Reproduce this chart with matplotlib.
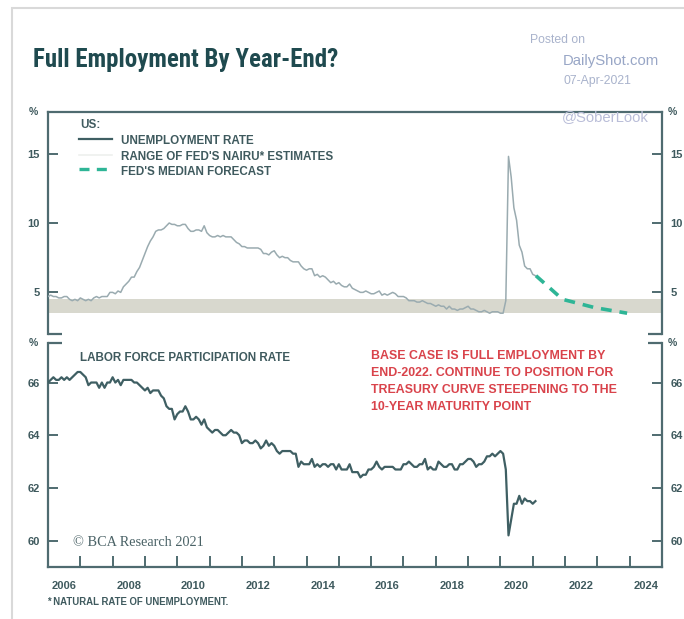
import numpy as np
import matplotlib
matplotlib.use("Agg")
import matplotlib.pyplot as plt
from matplotlib.lines import Line2D
from matplotlib.patches import Rectangle

# ---------------- data ----------------
start_year = 2006  # monthly series start in January 2006

unemployment_rate = [
    4.7, 4.8, 4.7, 4.7, 4.6, 4.6, 4.7, 4.7, 4.5, 4.4, 4.5, 4.4,   # 2006
    4.6, 4.5, 4.4, 4.5, 4.4, 4.6, 4.7, 4.6, 4.7, 4.7, 4.7, 5.0,   # 2007
    5.0, 4.9, 5.1, 5.0, 5.4, 5.6, 5.8, 6.1, 6.1, 6.5, 6.8, 7.3,   # 2008
    7.8, 8.3, 8.7, 9.0, 9.4, 9.5, 9.5, 9.6, 9.8, 10.0, 9.9, 9.9,  # 2009
    9.8, 9.8, 9.9, 9.9, 9.6, 9.4, 9.4, 9.5, 9.5, 9.4, 9.8, 9.3,   # 2010
    9.1, 9.0, 9.0, 9.1, 9.0, 9.1, 9.0, 9.0, 9.0, 8.8, 8.6, 8.5,   # 2011
    8.3, 8.3, 8.2, 8.2, 8.2, 8.2, 8.2, 8.1, 7.8, 7.8, 7.7, 7.9,   # 2012
    8.0, 7.7, 7.5, 7.6, 7.5, 7.5, 7.3, 7.2, 7.2, 7.2, 6.9, 6.7,   # 2013
    6.6, 6.7, 6.7, 6.2, 6.3, 6.1, 6.2, 6.1, 5.9, 5.7, 5.8, 5.6,   # 2014
    5.7, 5.5, 5.4, 5.4, 5.6, 5.3, 5.2, 5.1, 5.0, 5.0, 5.1, 5.0,   # 2015
    4.9, 4.9, 5.0, 5.1, 4.8, 4.9, 4.8, 4.9, 5.0, 4.9, 4.7, 4.7,   # 2016
    4.7, 4.6, 4.4, 4.4, 4.4, 4.3, 4.3, 4.4, 4.3, 4.2, 4.2, 4.1,   # 2017
    4.0, 4.1, 4.0, 4.0, 3.8, 4.0, 3.8, 3.8, 3.7, 3.8, 3.8, 3.9,   # 2018
    4.0, 3.8, 3.8, 3.7, 3.6, 3.6, 3.7, 3.6, 3.5, 3.6, 3.6, 3.6,   # 2019
    3.5, 3.5, 4.4, 14.8, 13.3, 11.1, 10.2, 8.4, 7.9, 6.9, 6.7, 6.7,  # 2020
    6.3, 6.2,                                                     # 2021
]

participation_rate = [
    66.0, 66.1, 66.2, 66.1, 66.1, 66.2, 66.1, 66.2, 66.1, 66.2, 66.3, 66.4,  # 2006
    66.4, 66.3, 66.2, 65.9, 66.0, 66.0, 66.0, 65.8, 66.0, 65.8, 66.0, 66.0,  # 2007
    66.2, 66.0, 66.1, 65.9, 66.1, 66.1, 66.1, 66.1, 66.0, 66.0, 65.9, 65.8,  # 2008
    65.7, 65.8, 65.6, 65.7, 65.7, 65.7, 65.5, 65.4, 65.1, 65.0, 65.0, 64.6,  # 2009
    64.8, 64.9, 64.9, 65.1, 64.9, 64.6, 64.6, 64.7, 64.6, 64.4, 64.6, 64.3,  # 2010
    64.2, 64.1, 64.2, 64.2, 64.1, 64.0, 64.0, 64.1, 64.2, 64.1, 64.1, 64.0,  # 2011
    63.7, 63.8, 63.8, 63.7, 63.7, 63.8, 63.7, 63.5, 63.6, 63.8, 63.6, 63.7,  # 2012
    63.6, 63.4, 63.3, 63.4, 63.4, 63.4, 63.4, 63.3, 63.3, 62.8, 63.0, 62.9,  # 2013
    62.9, 62.9, 63.1, 62.8, 62.9, 62.8, 62.9, 62.9, 62.8, 62.9, 62.9, 62.7,  # 2014
    62.9, 62.7, 62.7, 62.7, 62.9, 62.6, 62.6, 62.6, 62.4, 62.5, 62.5, 62.7,  # 2015
    62.7, 62.8, 63.0, 62.8, 62.7, 62.8, 62.8, 62.8, 62.8, 62.7, 62.7, 62.7,  # 2016
    62.9, 62.9, 63.0, 62.9, 62.8, 62.8, 62.9, 62.9, 63.1, 62.7, 62.8, 62.7,  # 2017
    62.7, 63.0, 62.9, 62.8, 62.8, 62.9, 62.9, 62.7, 62.7, 62.9, 62.9, 63.0,  # 2018
    63.1, 63.1, 63.0, 62.8, 62.9, 62.9, 63.0, 63.2, 63.2, 63.3, 63.2, 63.3,  # 2019
    63.4, 63.3, 62.7, 60.2, 60.8, 61.4, 61.4, 61.7, 61.4, 61.6, 61.5, 61.5,  # 2020
    61.4, 61.5,                                                              # 2021
]

# Fed median projection path (latest actual, then year-end projections)
forecast_dates = [2021.1, 2021.92, 2022.92, 2023.92]
forecast_values = [6.2, 4.5, 3.9, 3.5]

# Range of Fed NAIRU estimates
nairu_low, nairu_high = 3.5, 4.5

year_ticks = list(range(2007, 2025))
year_labels = list(range(2006, 2025, 2))

annotation = ("BASE CASE IS FULL EMPLOYMENT BY\n"
              "END-2022. CONTINUE TO POSITION FOR\n"
              "TREASURY CURVE STEEPENING TO THE\n"
              "10-YEAR MATURITY POINT")

# ---------------- styling ----------------
W, H = 684, 619
FRAME = "#4f6b70"
TEXT = "#3f5a5e"
TITLE = "#1f4a4f"
UNRATE_C = "#9aabb0"
LFPR_C = "#3f5f63"
FORECAST_C = "#2eb596"
BAND_C = "#d8d8ce"
RED = "#d9434b"
MARK = "#a9b3cc"
TITLE_FONT = ["Roboto Condensed", "Archivo Narrow", "Barlow Semi Condensed",
              "Liberation Sans"]

plt.rcParams["font.family"] = ["Liberation Sans", "DejaVu Sans"]

fig = plt.figure(figsize=(W / 100, H / 100), dpi=100)
fig.patch.set_facecolor("white")


def fx(px):
    return px / W


def fy(py):
    return 1 - py / H


# light outer border
fig.add_artist(Rectangle((fx(12), fy(700)), 1.2, fy(8) - fy(700),
                         transform=fig.transFigure, fill=False,
                         edgecolor="#d9d9d9", linewidth=1.5))

ax1 = fig.add_axes([fx(48), fy(334), fx(662) - fx(48), fy(112) - fy(334)])
ax2 = fig.add_axes([fx(48), fy(567), fx(662) - fx(48), fy(343) - fy(567)])

dates_u = start_year + np.arange(len(unemployment_rate)) / 12.0
dates_p = start_year + np.arange(len(participation_rate)) / 12.0

for ax in (ax1, ax2):
    ax.set_xlim(2006, 2025)
    for s in ax.spines.values():
        s.set_color(FRAME)
        s.set_linewidth(1.6)
    ax.tick_params(axis="y", which="both", direction="in", length=7, width=1.4,
                   color=FRAME, labelcolor=TEXT, labelsize=8,
                   left=True, right=True, labelleft=True, labelright=True, pad=6)

# ---- top panel: unemployment ----
ax1.set_ylim(2, 18)
ax1.axhspan(nairu_low, nairu_high, color=BAND_C, lw=0, zorder=1)
ax1.plot(dates_u, unemployment_rate, color=UNRATE_C, lw=1.1, zorder=3)
ax1.plot(forecast_dates, forecast_values, color=FORECAST_C, lw=2.6,
         dashes=(3, 2.2), zorder=4)
ax1.set_yticks([5, 10, 15])
ax1.set_yticklabels(["5", "10", "15"], fontweight="bold")
ax1.set_xticks([])
ax1.spines["bottom"].set_visible(False)

# ---- lower panel: participation ----
ax2.set_ylim(59, 67.5)
ax2.plot(dates_p, participation_rate, color=LFPR_C, lw=1.6, zorder=3)
ax2.set_yticks([60, 62, 64, 66])
ax2.set_yticklabels(["60", "62", "64", "66"], fontweight="bold")
ax2.spines["top"].set_visible(False)
ax2.set_xticks(year_ticks)
ax2.set_xticklabels([])
ax2.tick_params(axis="x", which="major", direction="in", length=8, width=1.4,
                color=FRAME)
ax2.set_xticks([y + 0.5 for y in year_labels], minor=True)
ax2.set_xticklabels([str(y) for y in year_labels], minor=True,
                    fontweight="bold", color=TEXT, fontsize=8)
ax2.tick_params(axis="x", which="minor", length=0, pad=10)

# corner brackets where the two panels meet
stub = 14 / (662 - 48)
for ax, yv in ((ax1, 0), (ax2, 1)):
    for xs in ((0, stub), (1 - stub, 1)):
        ax.add_line(Line2D(xs, [yv, yv], transform=ax.transAxes, color=FRAME,
                           lw=1.6, clip_on=False, solid_capstyle="butt"))

# % unit marks
for py in (112, 343):
    fig.text(fx(33), fy(py), "%", color=TEXT, fontsize=7.5, fontweight="bold",
             ha="center", va="center")
    fig.text(fx(672), fy(py), "%", color=TEXT, fontsize=7.5, fontweight="bold",
             ha="center", va="center")

# legend of the top panel
leg_x0, leg_x1, txt_x = fx(79), fx(112), fx(121)
fig.text(fx(80), fy(125), "US:", color=TEXT, fontsize=8.4, fontweight="bold",
         va="center")
legend_rows = [
    (138.5, "UNEMPLOYMENT RATE", dict(color=LFPR_C, lw=1.6)),
    (154.5, "RANGE OF FED'S NAIRU* ESTIMATES", dict(color="#eef0ee", lw=1.2)),
    (169.5, "FED'S MEDIAN FORECAST", dict(color=FORECAST_C, lw=2.4, dashes=(3, 2.2))),
]
for py, label, style in legend_rows:
    fig.add_artist(Line2D([leg_x0, leg_x1], [fy(py), fy(py)],
                          transform=fig.transFigure, **style))
    fig.text(txt_x, fy(py + 2), label, color=TEXT, fontsize=8.4,
             fontweight="bold", va="center")

# lower-panel labels
fig.text(fx(80), fy(358), "LABOR FORCE PARTICIPATION RATE", color=TEXT,
         fontsize=8.4, fontweight="bold", va="center")
fig.text(fx(371), fy(350.5), annotation, color=RED, fontsize=8.9,
         fontweight="bold", va="top", linespacing=1.53)
fig.text(fx(73), fy(543), "© BCA Research 2021", color="#4a6266",
         fontsize=10.3, family=["Liberation Serif", "DejaVu Serif"], va="center")

# footnote
fig.text(fx(47), fy(602), "* NATURAL RATE OF UNEMPLOYMENT.", color=TEXT,
         fontsize=6.9, fontweight="bold", va="center")

# title
fig.text(fx(33), fy(60), "Full Employment By Year-End?", color=TITLE,
         fontsize=18, fontweight="bold", va="center", family=TITLE_FONT)

# source marks
fig.text(fx(530), fy(40), "Posted on", color=MARK, fontsize=8.8, va="center")
fig.text(fx(563), fy(61), "DailyShot.com", color="#98a6c6", fontsize=10.7,
         va="center")
fig.text(fx(563), fy(81), "07-Apr-2021", color=MARK, fontsize=8.8, va="center")
fig.text(fx(562), fy(117), "@SoberLook", color="#b9bdd8", fontsize=10.7,
         va="center")

fig.savefig("out.png", dpi=100, facecolor="white")
